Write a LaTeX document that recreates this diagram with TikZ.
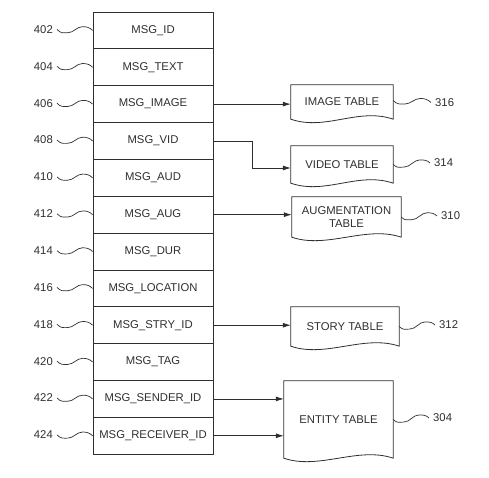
\documentclass[tikz,border=0pt]{standalone}
\usepackage{fontspec}
\setmainfont{Liberation Sans}
\usetikzlibrary{calc,arrows.meta}
\definecolor{ink}{gray}{0.18}
\begin{document}
\begin{tikzpicture}[x=1pt,y=-1pt,
  font=\fontsize{11.3}{13}\selectfont, text=ink,
  rowbox/.style={draw=ink, line width=0.8pt, minimum width=120pt, minimum height=36.85pt, inner sep=0pt},
  num/.style={inner sep=1pt},
  doc/.style={minimum width=#1, inner sep=0pt, align=center},
  docline/.style={draw=ink, line width=0.8pt},
  arr/.style={draw=ink, line width=0.8pt, -{Latex[length=8pt,width=5pt]}},
  squiggle/.style={draw=ink, line width=0.7pt, to path={
    (\tikztostart) .. controls +(4,4) and +(-5,0) ..
    ($(\tikztostart)!0.3!(\tikztotarget)+(0,3)$) .. controls +(6,0) and +(-6,0) ..
    ($(\tikztostart)!0.72!(\tikztotarget)+(0,-3.5)$) .. controls +(4,0) and +(-3,-3) ..
    (\tikztotarget)}}
]
\newcommand\docshape[1]{\draw[docline] (#1.south west) .. controls +(35,12) and +(-35,-12) .. (#1.south east) -- (#1.north east) -- (#1.north west) -- cycle;}
\useasboundingbox (0,0) rectangle (489,478);

\foreach \n/\t [count=\k from 0] in {402/MSG\_ID, 404/MSG\_TEXT, 406/MSG\_IMAGE, 408/MSG\_VID, 410/MSG\_AUD, 412/MSG\_AUG, 414/MSG\_DUR, 416/MSG\_LOCATION, 418/MSG\_STRY\_ID, 420/MSG\_TAG, 422/MSG\_SENDER\_ID, 424/MSG\_RECEIVER\_ID}{
  \node[rowbox] (r\n) at (153, {30.425+36.85*\k}) {\t};
  \node[num, anchor=east] (n\n) at (54, {29.5+36.85*\k}) {\n};
  \draw[squiggle] ([xshift=3pt]n\n.east) to (r\n.west);
}

% document-shaped tables
\node[doc=102pt, minimum height=34pt] (img) at (342,102) {IMAGE TABLE};
\docshape{img}
\node[doc=102pt, minimum height=37pt] (vid) at (342,164.5) {VIDEO TABLE};
\docshape{vid}
\node[doc=109pt, minimum height=40pt] (aug) at (346.5,217) {AUGMENTATION\\TABLE};
\docshape{aug}
\node[doc=108pt, minimum height=39pt] (sto) at (345,326.5) {STORY TABLE};
\docshape{sto}
\node[doc=109pt, minimum height=77pt] (ent) at (338.5,419.5) {ENTITY TABLE};
\docshape{ent}

% arrows
\draw[arr] (r406.east) -- (r406.east -| img.west);
\coordinate (vbend) at (252,168);
\draw[arr] (r408.east) -| (vbend) -- (vbend -| vid.west);
\draw[arr] (r412.east) -- (r412.east -| aug.west);
\draw[arr] (r418.east) -- (r418.east -| sto.west);
\draw[arr] (r422.east) -- (r422.east -| ent.west);
\draw[arr] (r424.east) -- (r424.east -| ent.west);

% reference numerals
\node[num, anchor=west] (l316) at (434,102.5) {316};
\node[num, anchor=west] (l314) at (433,163) {314};
\node[num, anchor=west] (l310) at (440,216) {310};
\node[num, anchor=west] (l312) at (438,325) {312};
\node[num, anchor=west] (l304) at (432,418) {304};
\draw[squiggle] ([yshift=1.5pt]img.east) to ([xshift=-3pt]l316.west);
\draw[squiggle] (vid.east) to ([xshift=-3pt]l314.west);
\draw[squiggle] (aug.east) to ([xshift=-3pt]l310.west);
\draw[squiggle] (sto.east) to ([xshift=-3pt]l312.west);
\draw[squiggle] (ent.east) to ([xshift=-3pt]l304.west);
\end{tikzpicture}
\end{document}
